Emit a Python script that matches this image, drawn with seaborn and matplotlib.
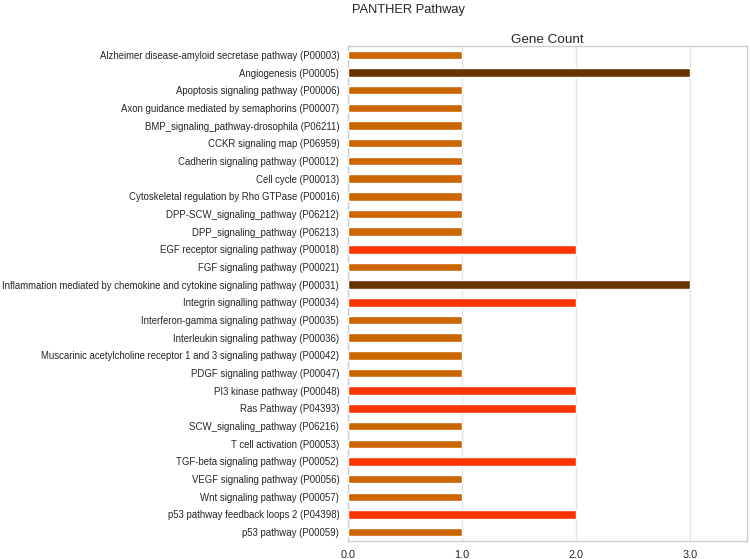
import numpy as np
import pandas as pd
import seaborn as sns
from matplotlib import pyplot as plt

# PANTHER pathway gene counts
pathways = [
    "Alzheimer disease-amyloid secretase pathway (P00003)",
    "Angiogenesis (P00005)",
    "Apoptosis signaling pathway (P00006)",
    "Axon guidance mediated by semaphorins (P00007)",
    "BMP_signaling_pathway-drosophila (P06211)",
    "CCKR signaling map (P06959)",
    "Cadherin signaling pathway (P00012)",
    "Cell cycle (P00013)",
    "Cytoskeletal regulation by Rho GTPase (P00016)",
    "DPP-SCW_signaling_pathway (P06212)",
    "DPP_signaling_pathway (P06213)",
    "EGF receptor signaling pathway (P00018)",
    "FGF signaling pathway (P00021)",
    "Inflammation mediated by chemokine and cytokine signaling pathway (P00031)",
    "Integrin signalling pathway (P00034)",
    "Interferon-gamma signaling pathway (P00035)",
    "Interleukin signaling pathway (P00036)",
    "Muscarinic acetylcholine receptor 1 and 3 signaling pathway (P00042)",
    "PDGF signaling pathway (P00047)",
    "PI3 kinase pathway (P00048)",
    "Ras Pathway (P04393)",
    "SCW_signaling_pathway (P06216)",
    "T cell activation (P00053)",
    "TGF-beta signaling pathway (P00052)",
    "VEGF signaling pathway (P00056)",
    "Wnt signaling pathway (P00057)",
    "p53 pathway feedback loops 2 (P04398)",
    "p53 pathway (P00059)",
]
gene_count = [1, 3, 1, 1, 1, 1, 1, 1, 1, 1, 1, 2, 1, 3, 2, 1, 1, 1, 1, 2, 2, 1, 1, 2, 1, 1, 2, 1]

count_colors = {1: "#CC6600", 2: "#FF3300", 3: "#663300"}

df = pd.DataFrame({"Pathway": pathways, "Gene Count": gene_count})

sns.set_style("white")
plt.rcParams["font.family"] = ["Liberation Sans", "DejaVu Sans"]

fig = plt.figure(figsize=(7.5, 5.59), dpi=100)
ax = fig.add_axes([0.464, 0.0322, 0.532, 0.8855])

sns.barplot(data=df, x="Gene Count", y="Pathway", hue="Gene Count",
            palette=count_colors, saturation=1, dodge=False, legend=False,
            width=0.48, ax=ax, zorder=3)

ax.set_xlim(0, 3.5)
ax.set_ylim(27.5, -0.5)
ax.set_xticks([0, 1, 2, 3])
ax.set_xticklabels(["0.0", "1.0", "2.0", "3.0"], fontsize=7.8)
ax.tick_params(axis="y", labelsize=6.95, length=0, pad=6.3)
ax.tick_params(axis="x", length=0, pad=6.5)
ax.grid(axis="x", color="#e3e3e3", linewidth=1, zorder=0)
for s in ax.spines.values():
    s.set_color("#cfcfcf")
    s.set_linewidth(1)
ax.set_xlabel("")
ax.set_ylabel("")

ax.set_title("Gene Count", fontsize=9.7, pad=2)
fig.text(0.544, 0.983, "PANTHER Pathway", ha="center", va="center", fontsize=9.3)

fig.savefig("out.png", dpi=100)
